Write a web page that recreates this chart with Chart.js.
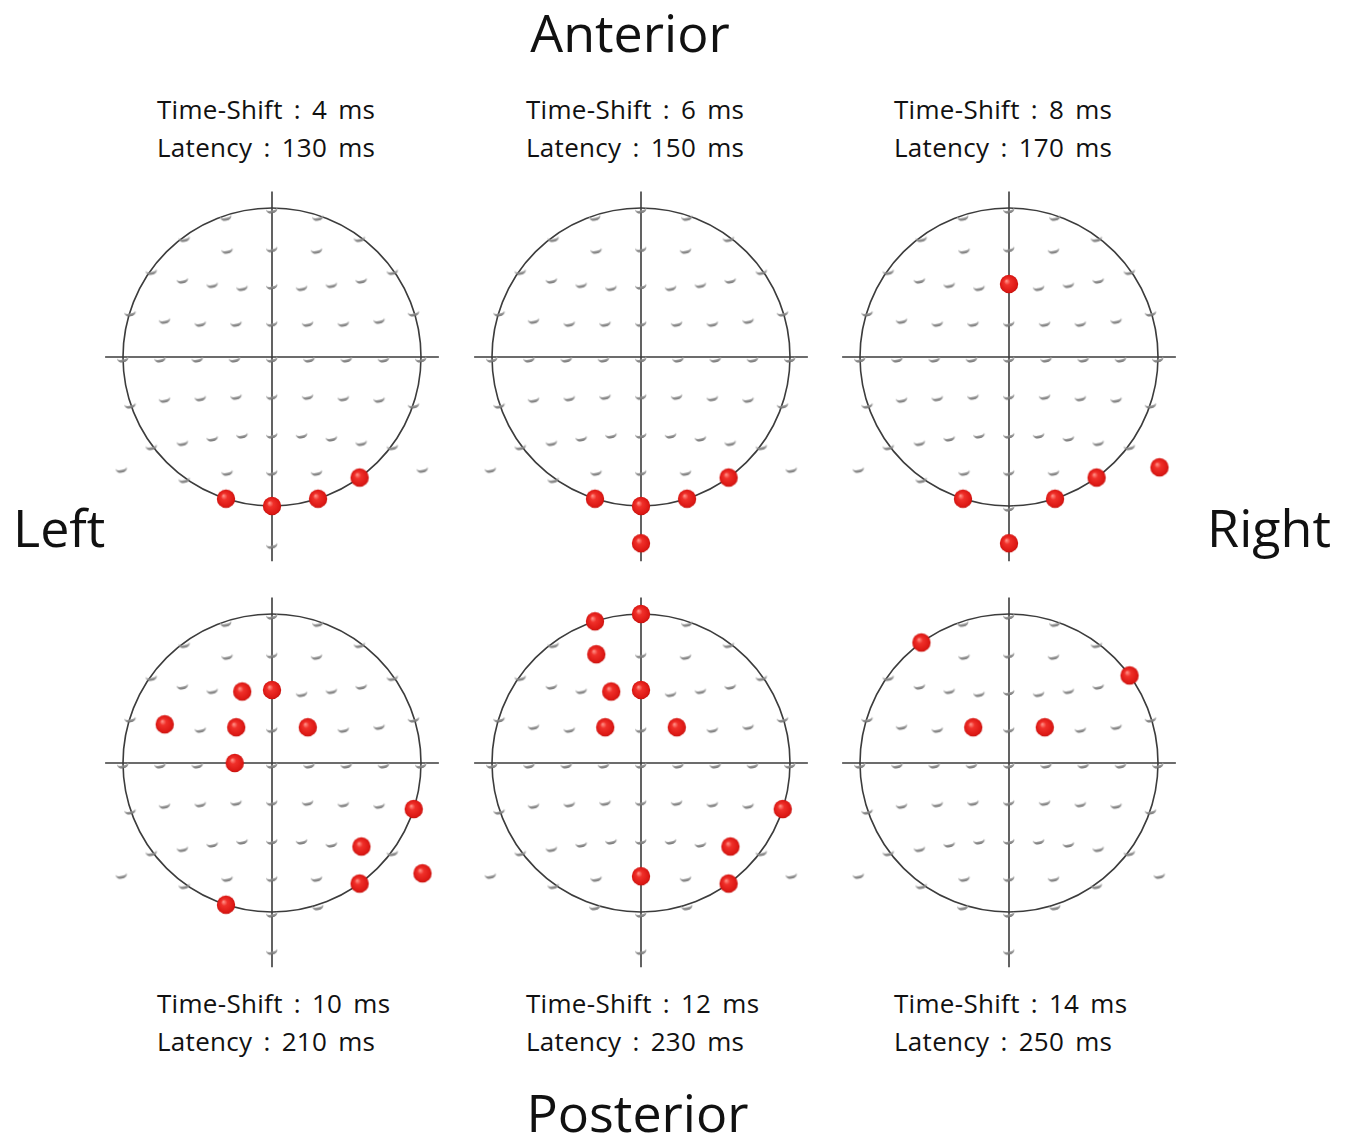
<!DOCTYPE html>
<html>
<head>
<meta charset="utf-8">
<title>Electrode activation across time shifts</title>
<script src="https://cdn.jsdelivr.net/npm/chart.js@4/dist/chart.umd.min.js"></script>
<style>
  html, body { margin: 0; padding: 0; background: #ffffff; }
  #stage { position: relative; width: 1352px; height: 1136px; overflow: hidden; background: #ffffff; }
  #stage canvas { position: absolute; }
  .lbl { position: absolute; font-family: "Open Sans", "Noto Sans", sans-serif; color: #111; line-height: 1; white-space: pre; }
  .big { font-size: 52px; }
  .cap { font-size: 26px; word-spacing: 4px; letter-spacing: 0.3px; }
</style>
</head>
<body>
<div id="stage"></div>
<script>
// 64-channel cap, azimuthal projection: head circle (Fpz-T7-Oz-T8) has radius 1
const electrodeNames = ['Fp1','AF7','AF3','F1','F3','F5','F7','FT7','FC5','FC3','FC1','C1','C3','C5','T7','TP7',
  'CP5','CP3','CP1','P1','P3','P5','P7','P9','PO7','PO3','O1','Iz','Oz','POz','Pz','CPz',
  'Fpz','Fp2','AF8','AF4','AFz','Fz','F2','F4','F6','F8','FT8','FC6','FC4','FC2','FCz','Cz',
  'C2','C4','C6','T8','TP8','CP6','CP4','CP2','P2','P4','P6','P8','P10','PO8','PO4','O2'];
const electrodeX = [-0.309,-0.588,-0.30,-0.20,-0.40,-0.60,-0.809,-0.951,-0.72,-0.48,-0.24,-0.25,-0.50,-0.75,-1.0,-0.951,
  -0.72,-0.48,-0.24,-0.20,-0.40,-0.60,-0.809,-1.01,-0.588,-0.30,-0.309,0,0,0,0,0,
  0,0.309,0.588,0.30,0,0,0.20,0.40,0.60,0.809,0.951,0.72,0.48,0.24,0,0,
  0.25,0.50,0.75,1.0,0.951,0.72,0.48,0.24,0.20,0.40,0.60,0.809,1.01,0.588,0.30,0.309];
const electrodeY = [0.951,0.809,0.73,0.48,0.50,0.53,0.588,0.309,0.26,0.24,0.24,0,0,0,0,-0.309,
  -0.27,-0.26,-0.25,-0.51,-0.53,-0.56,-0.588,-0.74,-0.809,-0.76,-0.951,-1.25,-1.0,-0.76,-0.51,-0.25,
  1.0,0.951,0.809,0.73,0.74,0.49,0.48,0.50,0.53,0.588,0.309,0.26,0.24,0.24,0.24,0,
  0,0,0,0,-0.309,-0.27,-0.26,-0.25,-0.51,-0.53,-0.56,-0.588,-0.74,-0.809,-0.76,-0.951];

// Panels
const timeShiftMs = [4, 6, 8, 10, 12, 14];
const latencyMs = [130, 150, 170, 210, 230, 250];
const active4ms  = ['O1','Oz','O2','PO8'];
const active6ms  = ['O1','Oz','O2','PO8','Iz'];
const active8ms  = ['Fz','O1','O2','PO8','P10','Iz'];
const active10ms = ['F1','Fz','FC5','FC1','FC2','C1','TP8','P6','P10','PO8','O1'];
const active12ms = ['Fp1','Fpz','AF3','F1','Fz','FC1','FC2','TP8','P6','POz','PO8'];
const active14ms = ['AF7','F8','FC1','FC2'];
const activeSets = [active4ms, active6ms, active8ms, active10ms, active12ms, active14ms];

// Layout (pixels)
const UNIT = 149;                 // one head radius
const CANVAS_W = 360, CANVAS_H = 390;
const ORIGIN_X = 180, ORIGIN_Y = 175;
const panelCentres = [[271.5, 357], [640.5, 357], [1009, 357], [271.5, 763], [640.5, 763], [1009, 763]];
const captionLeft = [157, 526, 894];

// gray electrode marker: the shaded underside of a small bead, just below the site
function makeElectrodeSprite() {
  const c = document.createElement('canvas');
  c.width = 16; c.height = 20;
  const g = c.getContext('2d');
  const cy = 13;
  g.save();
  g.translate(8, cy);
  g.rotate(-0.18);
  g.beginPath();
  g.ellipse(0, -1.5, 5.8, 3.8, 0, 0, Math.PI, false);
  g.ellipse(0, -2.6, 5.2, 2.2, 0, Math.PI, 0, true);
  g.closePath();
  const grad = g.createLinearGradient(0, -2.5, 0, 2.4);
  grad.addColorStop(0, 'rgba(200,200,200,0.75)');
  grad.addColorStop(0.5, 'rgba(145,145,145,0.92)');
  grad.addColorStop(1, 'rgba(105,105,105,0.95)');
  g.fillStyle = grad;
  g.fill();
  g.restore();
  return c;
}

// shaded red sphere for an active electrode
function makeActiveSprite() {
  const c = document.createElement('canvas');
  c.width = 22; c.height = 22;
  const g = c.getContext('2d');
  const grad = g.createRadialGradient(8.5, 8, 0.5, 11, 11, 9.5);
  grad.addColorStop(0, '#ff8a80');
  grad.addColorStop(0.3, '#f0302a');
  grad.addColorStop(0.85, '#dc1814');
  grad.addColorStop(1, '#bf100c');
  g.beginPath();
  g.arc(11, 11, 9.2, 0, Math.PI * 2);
  g.fillStyle = grad;
  g.fill();
  return c;
}

const electrodeSprite = makeElectrodeSprite();
const activeSprite = makeActiveSprite();

// head outline and midline crosshair, drawn from the scales
const headPlugin = {
  id: 'headOutline',
  beforeDatasetsDraw(chart, args, opts) {
    const { x, y } = chart.scales;
    const ctx = chart.ctx;
    const cx = x.getPixelForValue(0), cy = y.getPixelForValue(0);
    const r = x.getPixelForValue(1) - cx;
    ctx.save();
    ctx.strokeStyle = opts.color;
    ctx.lineWidth = opts.width;
    ctx.beginPath();
    ctx.moveTo(x.getPixelForValue(-opts.hExtent), cy);
    ctx.lineTo(x.getPixelForValue(opts.hExtent), cy);
    ctx.moveTo(cx, y.getPixelForValue(opts.vTop));
    ctx.lineTo(cx, y.getPixelForValue(opts.vBottom));
    ctx.stroke();
    ctx.beginPath();
    ctx.arc(cx, cy, r, 0, Math.PI * 2);
    ctx.stroke();
    ctx.restore();
  }
};

const stage = document.getElementById('stage');

function pointsFor(names) {
  return names.map(n => {
    const i = electrodeNames.indexOf(n);
    return { x: electrodeX[i], y: electrodeY[i] };
  });
}

const allSites = electrodeNames.map((n, i) => ({ x: electrodeX[i], y: electrodeY[i] }));

function captionLine(text, left, baseline) {
  const d = document.createElement('div');
  d.className = 'lbl cap';
  d.textContent = text;
  d.style.left = left + 'px';
  d.style.top = (baseline - 0.888 * 26) + 'px';
  stage.appendChild(d);
}

panelCentres.forEach(([pcx, pcy], p) => {
  const cv = document.createElement('canvas');
  cv.width = CANVAS_W; cv.height = CANVAS_H;
  cv.style.left = (pcx - ORIGIN_X) + 'px';
  cv.style.top = (pcy - ORIGIN_Y) + 'px';
  cv.style.width = CANVAS_W + 'px';
  cv.style.height = CANVAS_H + 'px';
  stage.appendChild(cv);

  new Chart(cv, {
    type: 'scatter',
    data: {
      datasets: [
        { data: allSites, pointStyle: electrodeSprite, pointRadius: 7, clip: false, order: 2 },
        { data: pointsFor(activeSets[p]), pointStyle: activeSprite, pointRadius: 10, clip: false, order: 1 }
      ]
    },
    options: {
      responsive: false,
      animation: false,
      devicePixelRatio: 1,
      events: [],
      layout: { padding: 0, autoPadding: false },
      scales: {
        x: { type: 'linear', display: false, min: -ORIGIN_X / UNIT, max: (CANVAS_W - ORIGIN_X) / UNIT },
        y: { type: 'linear', display: false, min: -(CANVAS_H - ORIGIN_Y) / UNIT, max: ORIGIN_Y / UNIT }
      },
      plugins: {
        legend: { display: false },
        tooltip: { enabled: false },
        headOutline: { color: '#3c3c3c', width: 1.6, hExtent: 1.12, vTop: 1.11, vBottom: -1.37 }
      }
    },
    plugins: [headPlugin]
  });

  // caption: above the top row, below the bottom row
  const col = p % 3, row = Math.floor(p / 3);
  const baseline1 = row === 0 ? 119 : 1013.5;
  captionLine('Time-Shift : ' + timeShiftMs[p] + ' ms', captionLeft[col], baseline1);
  captionLine('Latency : ' + latencyMs[p] + ' ms', captionLeft[col], baseline1 + 37.8);
});

// orientation labels
function bigLabel(text, x, baseline, align) {
  const d = document.createElement('div');
  d.className = 'lbl big';
  d.textContent = text;
  d.style.top = (baseline - 0.888 * 52) + 'px';
  if (align === 'center') { d.style.left = (x - 200) + 'px'; d.style.width = '400px'; d.style.textAlign = 'center'; }
  else if (align === 'right') { d.style.left = (x - 300) + 'px'; d.style.width = '300px'; d.style.textAlign = 'right'; }
  else { d.style.left = x + 'px'; }
  stage.appendChild(d);
}
bigLabel('Anterior', 630, 52, 'center');
bigLabel('Posterior', 637.5, 1132, 'center');
bigLabel('Left', 13, 547, 'left');
bigLabel('Right', 1331, 547, 'right');
</script>
</body>
</html>
